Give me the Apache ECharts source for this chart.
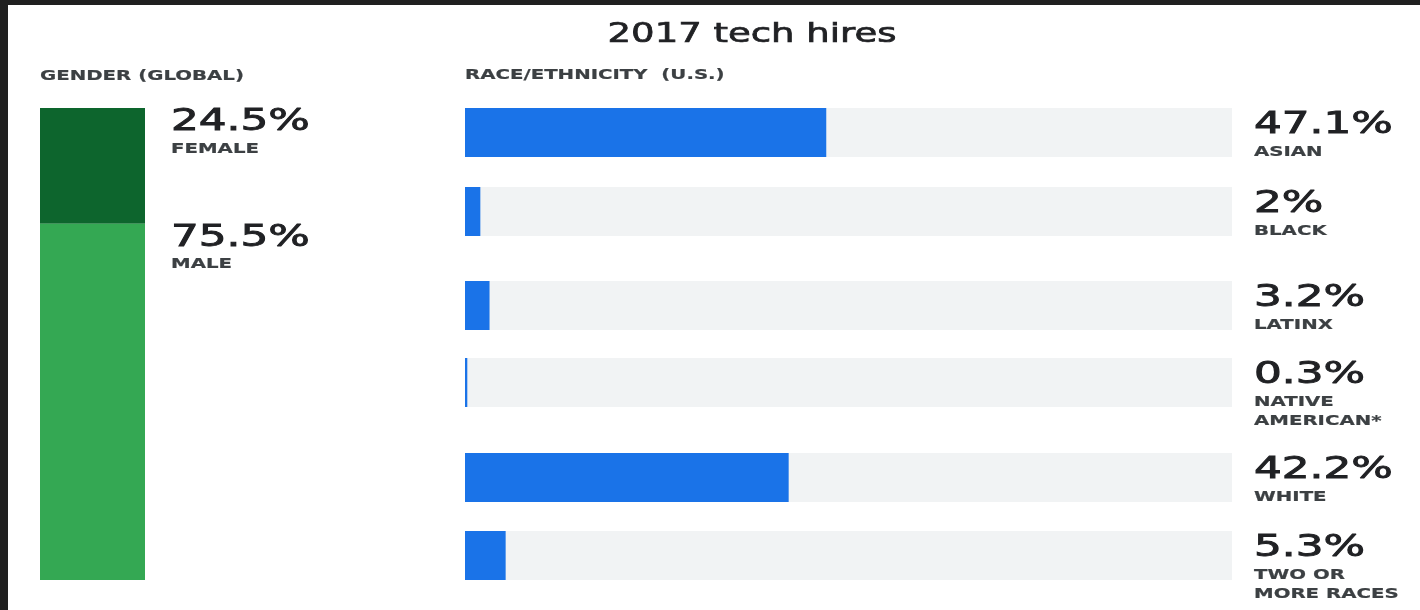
<!DOCTYPE html>
<html>
<head>
<meta charset="utf-8">
<script src="https://cdn.jsdelivr.net/npm/echarts@6/dist/echarts.min.js"></script>
<style>
  html, body { margin: 0; padding: 0; background: #ffffff; }
  #chart { width: 1420px; height: 610px; }
</style>
</head>
<body>
<div id="chart"></div>
<script>
// ---------- data ----------
const chartTitle = '2017 tech hires';
const genderHeading = 'GENDER (GLOBAL)';
const raceHeading = 'RACE/ETHNICITY  (U.S.)';

const genderNames = ['FEMALE', 'MALE'];
const genderValues = [24.5, 75.5];

const raceNames = ['ASIAN', 'BLACK', 'LATINX', 'NATIVE\nAMERICAN*', 'WHITE', 'TWO OR\nMORE RACES'];
const raceValues = [47.1, 2, 3.2, 0.3, 42.2, 5.3];

// ---------- layout / style ----------
const FONT = '"DejaVu Sans", sans-serif';
const genderColors = ['#0d652d', '#34a853'];
const raceColor = '#1a73e8';
const trackColor = '#f1f3f4';
const ROW_TOPS = [108, 187, 281, 358, 453, 531];
const ROW_H = 49;
const RACE_LEFT = 465, RACE_WIDTH = 767;

const chart = echarts.init(document.getElementById('chart'), null, { renderer: 'canvas' });

const grids = [{ left: 40, top: 108, width: 105, height: 472 }];
const xAxes = [{ type: 'category', gridIndex: 0, data: ['gender'], show: false }];
const yAxes = [{ type: 'value', gridIndex: 0, min: 0, max: 100, inverse: true, show: false }];
const series = genderValues.map((v, i) => ({
  type: 'bar', name: genderNames[i], stack: 'gender',
  xAxisIndex: 0, yAxisIndex: 0, barWidth: '100%',
  data: [v], itemStyle: { color: genderColors[i] }, silent: true
}));

raceValues.forEach((v, i) => {
  const gi = i + 1;
  grids.push({ left: RACE_LEFT, width: RACE_WIDTH, top: ROW_TOPS[i], height: ROW_H });
  xAxes.push({ type: 'value', gridIndex: gi, min: 0, max: 100, show: false });
  yAxes.push({ type: 'category', gridIndex: gi, data: [raceNames[i]], show: false });
  series.push({
    type: 'bar', name: raceNames[i], xAxisIndex: gi, yAxisIndex: gi,
    barWidth: '100%', data: [v], silent: true,
    itemStyle: { color: raceColor },
    showBackground: true, backgroundStyle: { color: trackColor }
  });
});

chart.setOption({
  animation: false,
  backgroundColor: '#ffffff',
  grid: grids, xAxis: xAxes, yAxis: yAxes, series: series
});

// ---------- text (anchored to library coordinates) ----------
function txt(text, x, y, opt) {
  return {
    type: 'text', x: x, y: y, scaleX: opt.scaleX || 1, z: 10, silent: true,
    style: {
      text: text, fill: opt.fill || '#202124',
      stroke: opt.fill || '#202124', lineWidth: opt.stroke || 0,
      font: opt.font, align: opt.align || 'left', textAlign: opt.align || 'left',
      verticalAlign: 'middle', textVerticalAlign: 'middle'
    }
  };
}
const valFont = { font: 'normal 31px ' + FONT, scaleX: 1.41, fill: '#202124', stroke: 0.9 };
const lblFont = { font: 'bold 14px ' + FONT, scaleX: 1.41, fill: '#3c4043', stroke: 0.2 };

const g = [];
// frame
g.push({ type: 'rect', shape: { x: 0, y: 0, width: 1420, height: 5 }, style: { fill: '#202020' }, z: 20, silent: true });
g.push({ type: 'rect', shape: { x: 0, y: 0, width: 8, height: 610 }, style: { fill: '#202020' }, z: 20, silent: true });

g.push(txt(chartTitle, 752, 35, { font: 'normal 27px ' + FONT, scaleX: 1.37, fill: '#202124', align: 'center', stroke: 0.7 }));
g.push(txt(genderHeading, 40, 76, lblFont));
g.push(txt(raceHeading, 465, 75, lblFont));

// gender labels
let acc = 0;
genderValues.forEach((v, i) => {
  const top = chart.convertToPixel({ gridIndex: 0 }, [0, acc])[1];
  acc += v;
  const x = 171;
  g.push(txt(v + '%', x, top + 14, valFont));
  g.push(txt(genderNames[i], x, top + 41, lblFont));
});

// race labels
raceValues.forEach((v, i) => {
  const gi = i + 1;
  const cy = chart.convertToPixel({ yAxisIndex: gi }, raceNames[i]);
  const top = cy - ROW_H / 2;
  const x = RACE_LEFT + RACE_WIDTH + 22;
  g.push(txt(v + '%', x, top + 17, valFont));
  raceNames[i].split('\n').forEach((line, k) => {
    g.push(txt(line, x, top + 44 + k * 19, lblFont));
  });
});

chart.setOption({ graphic: g });
</script>
</body>
</html>
